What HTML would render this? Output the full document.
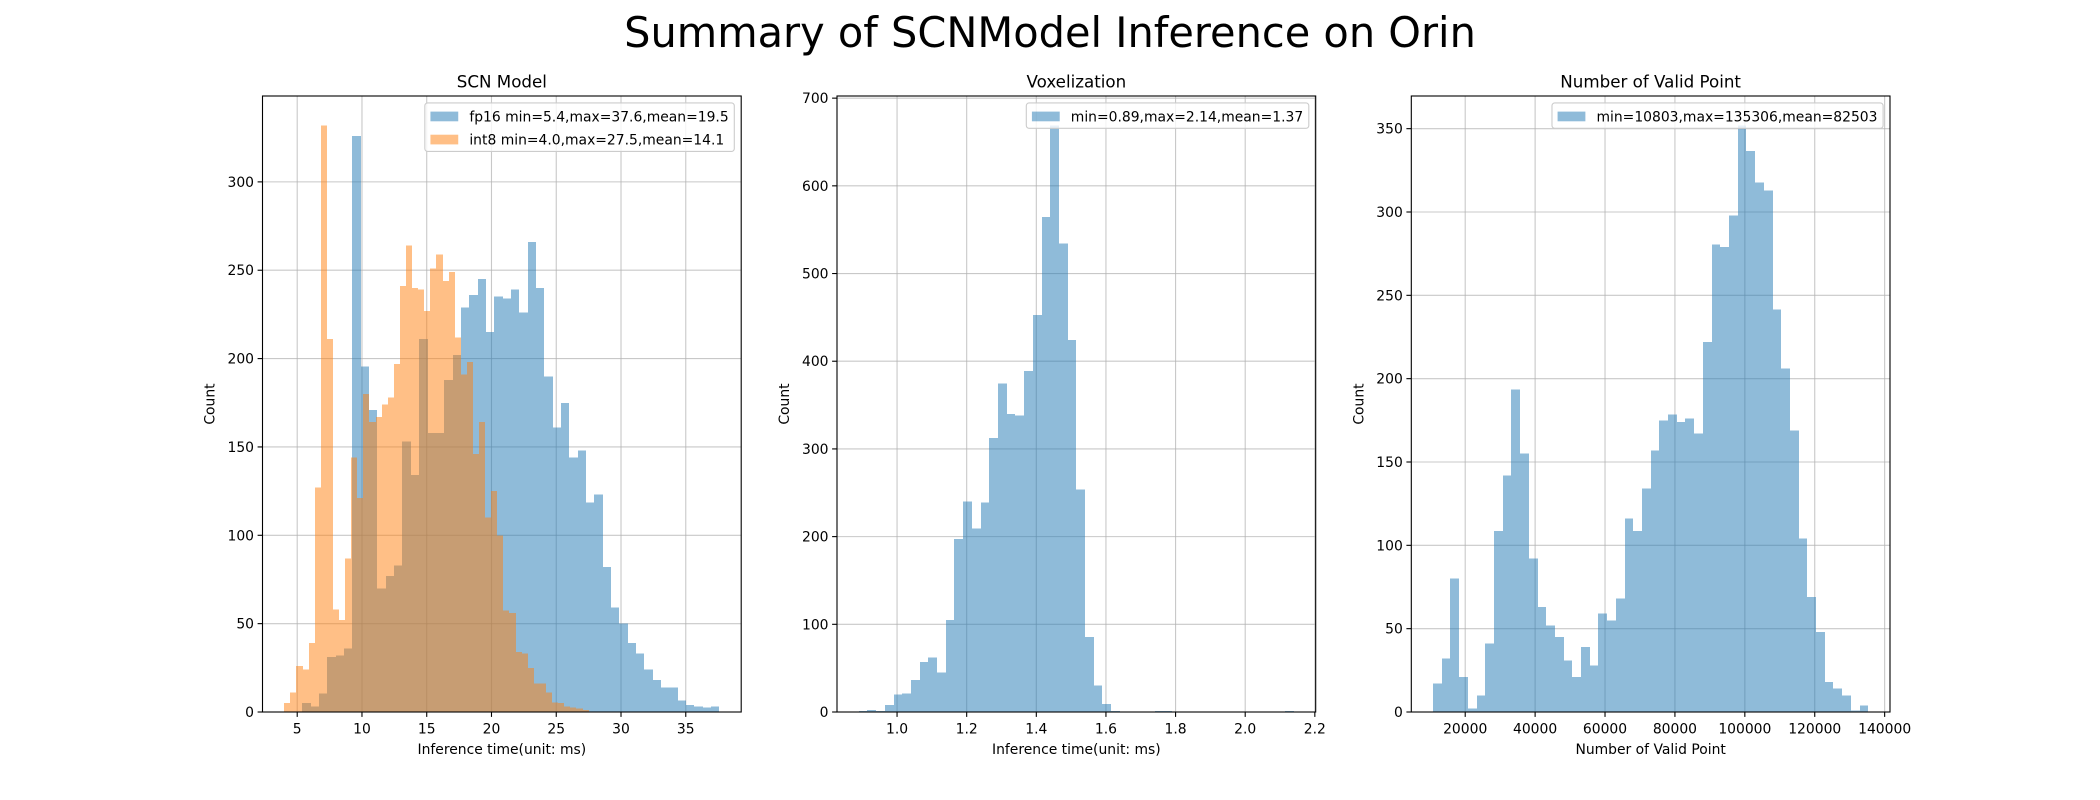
<!DOCTYPE html>
<html><head><meta charset="utf-8"><style>
html,body{margin:0;padding:0;background:#fff;}
svg{display:block;font-family:"DejaVu Sans","Liberation Sans",sans-serif;}
</style></head><body>
<svg id="fig" width="2100" height="800" viewBox="0 0 2100 800">
<rect width="2100" height="800" fill="#fff"/>
<text x="1050" y="47" text-anchor="middle" font-size="41.5" fill="#000">Summary of SCNModel Inference on Orin</text>
</svg>
<script>
// ---- data ----
const fp16Range = [5.4, 37.6];
const fp16Counts = [5,3,10.5,31,32,36,326,195.5,171,70,77,83,153,134,211,158,158,188,202,229,236,245,215,235,234,239,226,266,240,190,161,175,144,148,118.5,123,82,59,50,39,33,24,18,14,14,6.5,4,3,2.5,3];
const int8Range = [4.0, 27.5];
const int8Counts = [5,11,26,24,39,127,332,211,58,52,87,144,121,180,164,167,174,178,197,241,264,240,239,227,251,259,244,249,212,191,198,146,164,110,125,100,57.5,56,34,33,25,16,16,11,5.4,5,3,2.5,2,1];
const voxRange = [0.89, 2.14];
const voxCounts = [1,2.4,1.4,8,20,21,36.5,57,62,45,105,197,240,209,239,312.5,374.5,340,338,389,453,564.5,669,534,424,254,85.5,30,9,1,0,0,0,0,1,1,0,0,0,0,0,0,0,0,0,0,0,0,0,1];
const ptsRange = [10803, 135306];
const ptsCounts = [17,32,80,21,2,10,41,108.5,142,193.5,155,92,63,52,45,31,21,39,28,59,55,68,116,108.5,134,157,175,178.6,174,176,167,222,280.5,279,298,352,336.6,317.6,313,241.4,206,169,104,69,48,18,14,10,1,4];
const p1XTicks = [5,10,15,20,25,30,35];
const p1YTicks = [0,50,100,150,200,250,300];
const p2XTicks = [1.0,1.2,1.4,1.6,1.8,2.0,2.2];
const p2YTicks = [0,100,200,300,400,500,600,700];
const p3XTicks = [20000,40000,60000,80000,100000,120000,140000];
const p3YTicks = [0,50,100,150,200,250,300,350];
const legend1 = ["fp16 min=5.4,max=37.6,mean=19.5","int8 min=4.0,max=27.5,mean=14.1"];
const legend2 = ["min=0.89,max=2.14,mean=1.37"];
const legend3 = ["min=10803,max=135306,mean=82503"];

const NS = "http://www.w3.org/2000/svg";
const svg = document.getElementById('fig');
function mk(tag, attrs, parent){ const e=document.createElementNS(NS,tag); for(const k in attrs) e.setAttribute(k,attrs[k]); (parent||svg).appendChild(e); return e; }

const TOP=96, BOT=712;
function panel(cfg){
  const L=cfg.left, R=cfg.left+478.7;
  const g=mk('g',{});
  
  
  let xmin=Infinity,xmax=-Infinity,ymax=0;
  cfg.series.forEach(s=>{xmin=Math.min(xmin,s.range[0]);xmax=Math.max(xmax,s.range[1]);ymax=Math.max(ymax,...s.counts);});
  const m=(xmax-xmin)*0.05; const x0=xmin-m, x1=xmax+m; const y1=ymax*1.05;
  const sx=v=>L+(v-x0)/(x1-x0)*(R-L);
  const sy=v=>BOT-v/y1*(BOT-TOP);
  const clip=mk('clipPath',{id:cfg.name+'-clip'},g); mk('rect',{x:L,y:TOP,width:R-L,height:BOT-TOP},clip);
  cfg.xt.forEach(t=>{const x=sx(t); if(x<L-1||x>R+1) return; const ln=mk('line',{x1:x,x2:x,y1:TOP,y2:BOT,stroke:'#b0b0b0','stroke-width':1.1,'stroke-opacity':0.7},g);
     });
  cfg.yt.forEach(t=>{const y=sy(t); if(y<TOP-1) return; const ln=mk('line',{x1:L,x2:R,y1:y,y2:y,stroke:'#b0b0b0','stroke-width':1.1,'stroke-opacity':0.7},g);
     });
  const bg=mk('g',{'clip-path':'url(#'+cfg.name+'-clip)','shape-rendering':'crispEdges'},g);
  cfg.series.forEach(s=>{
    const n=s.counts.length, w=(s.range[1]-s.range[0])/n;
    s.counts.forEach((c,i)=>{
      if(c<=0) return;
      const xa=Math.round(sx(s.range[0]+i*w)), xb=Math.round(sx(s.range[0]+(i+1)*w));
      const r=mk('rect',{x:xa,y:sy(c),width:xb-xa,height:BOT-sy(c),fill:s.color,'fill-opacity':0.5},bg);
      
      
    });
  });
  const fr=mk('rect',{x:L,y:TOP,width:R-L,height:BOT-TOP,fill:'none',stroke:'#000','stroke-width':1.1},g);
   
  cfg.xt.forEach(t=>{const x=sx(t); if(x<L-1||x>R+1) return;
    mk('line',{x1:x,x2:x,y1:BOT,y2:BOT+4.9,stroke:'#000','stroke-width':1.1},g);
    const tx=mk('text',{x:x,y:BOT+21.5,'text-anchor':'middle','font-size':13.9,fill:'#000'},g); tx.textContent=cfg.xf(t);
     });
  cfg.yt.forEach(t=>{const y=sy(t); if(y<TOP-1) return;
    mk('line',{x1:L-4.9,x2:L,y1:y,y2:y,stroke:'#000','stroke-width':1.1},g);
    const tx=mk('text',{x:L-8.5,y:y+5,'text-anchor':'end','font-size':13.9,fill:'#000'},g); tx.textContent=String(t);
     });
  const ti=mk('text',{x:(L+R)/2,y:TOP-8.5,'text-anchor':'middle','font-size':16.7,fill:'#000'},g); ti.textContent=cfg.title;
   
  const xl=mk('text',{x:(L+R)/2,y:BOT+42,'text-anchor':'middle','font-size':13.9,fill:'#000'},g); xl.textContent=cfg.xlabel;
   
  const ylx=L-cfg.ylOff;
  const yl=mk('text',{x:ylx,y:(TOP+BOT)/2,'text-anchor':'middle','font-size':13.9,fill:'#000',transform:'rotate(-90 '+ylx+' '+(TOP+BOT)/2+')'},g); yl.textContent='Count';
   
  const lg=mk('g',{},g);
   
  const box=mk('rect',{fill:'#fff','fill-opacity':0.8,stroke:'#ccc','stroke-width':1.1,rx:2.8},lg);
  let maxw=0; const texts=[];
  cfg.legend.forEach((lab,i)=>{const t=mk('text',{'font-size':13.9,fill:'#000'},lg); t.textContent=lab; maxw=Math.max(maxw,t.getComputedTextLength()); texts.push(t);
     });
  const bw=5.6+27.8+11.1+maxw+5.6;
  const bh=5.6*2+cfg.legend.length*16.2+(cfg.legend.length-1)*6.9-2;
  const bx=R-6.9-bw, by=TOP+6.9;
  box.setAttribute('x',bx); box.setAttribute('y',by); box.setAttribute('width',bw); box.setAttribute('height',bh);
  cfg.legend.forEach((lab,i)=>{const cy=by+5.6+8+i*(16.2+6.9);
    const h=mk('rect',{x:bx+5.6,y:cy-4.9,width:27.8,height:9.7,fill:cfg.series[i].color,'fill-opacity':0.5},lg);
     
    texts[i].setAttribute('x',bx+5.6+27.8+11.1); texts[i].setAttribute('y',cy+5);});
}
panel({name:'scn-model-panel',left:262.5,title:'SCN Model',xlabel:'Inference time(unit: ms)',ylOff:48,
  series:[{key:'fp16',range:fp16Range,counts:fp16Counts,color:'#1f77b4'},{key:'int8',range:int8Range,counts:int8Counts,color:'#ff7f0e'}],
  xt:p1XTicks,yt:p1YTicks,xf:t=>String(t),legend:legend1});
panel({name:'voxelization-panel',left:837,title:'Voxelization',xlabel:'Inference time(unit: ms)',ylOff:48,
  series:[{key:'vox',range:voxRange,counts:voxCounts,color:'#1f77b4'}],
  xt:p2XTicks,yt:p2YTicks,xf:t=>t.toFixed(1),legend:legend2});
panel({name:'valid-point-panel',left:1411.3,title:'Number of Valid Point',xlabel:'Number of Valid Point',ylOff:48,
  series:[{key:'pts',range:ptsRange,counts:ptsCounts,color:'#1f77b4'}],
  xt:p3XTicks,yt:p3YTicks,xf:t=>String(t),legend:legend3});
</script>
</body></html>
